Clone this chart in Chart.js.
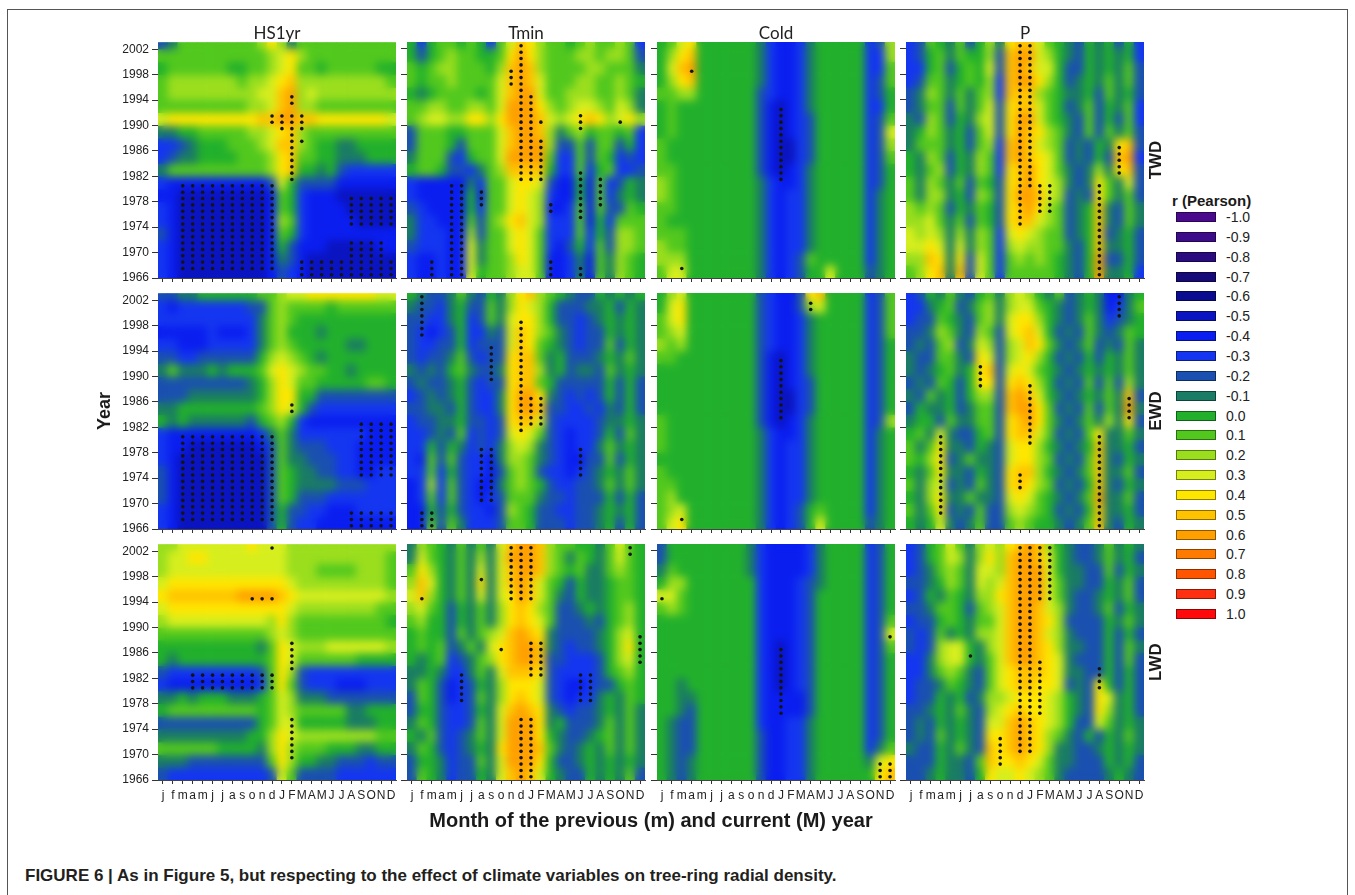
<!DOCTYPE html>
<html>
<head>
<meta charset="utf-8">
<title>Figure 6 - climate correlations with tree-ring density</title>
<script src="https://cdn.jsdelivr.net/npm/chart.js@4.4.1/dist/chart.umd.min.js"></script>
<style>
  html, body { margin: 0; padding: 0; background: #fff; }
  body { position: relative; width: 1355px; height: 895px; overflow: hidden; font-family: "Liberation Sans", Arial, sans-serif; color: #1a1a1a; }
  #frame { position: absolute; left: 7px; top: 9px; width: 1339px; height: 950px; border: 1.5px solid #555; }
  canvas { position: absolute; }
  .txt { position: absolute; white-space: nowrap; line-height: 1; }
  .col-title { font-family: Lato, "Open Sans", sans-serif; font-size: 17px; transform: translate(-50%, -50%); color: #222; }
  .rot { font-weight: bold; transform: translate(-50%, -50%) rotate(-90deg); }
  .swatch { position: absolute; width: 40px; height: 10px; box-sizing: border-box; border: 1px solid rgba(0, 0, 0, 0.45); }
</style>
</head>
<body>
<div id="frame"></div>
<script>
const MONTHS = [ "j", "f", "m", "a", "m", "j", "j", "a", "s", "o", "n", "d",
                 "J", "F", "M", "A", "M", "J", "J", "A", "S", "O", "N", "D" ];
const YEAR_TICKS = [ 1966, 1970, 1974, 1978, 1982, 1986, 1990, 1994, 1998, 2002 ];
// each grid row is a two-year band, listed top (2002) to bottom (1966)
const BAND_STARTS = [ 2002, 2000, 1998, 1996, 1994, 1992, 1990, 1988, 1986, 1984,
                      1982, 1980, 1978, 1976, 1974, 1972, 1970, 1968, 1966 ];
const VARIABLES = [ "HS1yr", "Tmin", "Cold", "P" ];
const DENSITIES = [ "TWD", "EWD", "LWD" ];
const R_LEVELS = [ -1.0, -0.9, -0.8, -0.7, -0.6, -0.5, -0.4, -0.3, -0.2, -0.1, 0.0,
                   0.1, 0.2, 0.3, 0.4, 0.5, 0.6, 0.7, 0.8, 0.9, 1.0 ];
const R_COLORS = [ "#4a0a8e", "#3c0c8a", "#2b0c80", "#160a78", "#0a0c90", "#0a14c0", "#0a1ef0",
                   "#1436f0", "#1a50b0", "#1a7c64", "#22b02c", "#52c81e", "#9ade1e", "#d6ee1e",
                   "#ffe600", "#ffc300", "#ffa000", "#ff7a00", "#ff5500", "#ff3010", "#ff0a0a" ];

// Cell codes: digit n = +0.n, letter a..j = -0.1..-1.0
// first 12 = previous year (j..d), after the space = current year (J..D)
const HS1YR_TWD = [
  "ba1111111124 2a1111111111",
  "111111111112 342111111111",
  "011111100112 341101111100",
  "122222221223 452222222221",
  "122222222233 562322222222",
  "111111111223 562211111111",
  "344444444455 665544444443",
  "aa0011111223 452111111111",
  "ccba00011123 552100aa0000",
  "cbaa00001112 451100aaa000",
  "a11111111112 4500a0bccccc",
  "cddddddddddb 30bbbbdddddd",
  "ddeeeeeeeeed 10cdddeeeeee",
  "cdeeeeeeeeed 10cddddeeeee",
  "cdeeeeeeeeed 21cdddddeeee",
  "bdeeeeeeeeed 10cddddddddd",
  "cdeeeeeeeeed 0bdddeeeeedd",
  "cdeeeeeeeeed abdeeeeeeeee",
  "cdeeeeeeeeed bcdeeeeeeeee"
];
const TMIN_TWD = [
  "0c011010c135 42110121121c",
  "0b0121100146 42111221221b",
  "101221110256 52111122111a",
  "101121111356 531112211210",
  "0a0111101356 63112221121a",
  "112211221366 64212332132a",
  "123322442466 653234542342",
  "b11100111356 652a1201101c",
  "b1110b111356 662bb1b11b0c",
  "a111bc011366 661cc1b10cbc",
  "0110bbca1255 550cc1c01ccb",
  "cdddddac1134 43bdd0d1cb0a",
  "cddddd0d1134 32cdd0d1ca0a",
  "bcdddd0c1134 32ddc1d1bb10",
  "accddd1b1245 32ccc1d0c111",
  "acccdd2b1134 31ccc1c0b221",
  "bcccdd3a1134 31cdb0c1b221",
  "cddcdd3a1124 31ddcad1a210",
  "cddcdd301123 31ddcad1a210"
];
const COLD_TWD = [
  "0134000000ac ddca00000cb2",
  "0245000000ac ddca00000cc2",
  "0356000000ac ddca00000cc1",
  "0245000000ac ddca00000cb1",
  "1122000000bc ddca00000cb0",
  "0100000000bd edca00000cc0",
  "0100000000bd edcb00000cb1",
  "0100000000bd edcb00000cb3",
  "1000000000bd eecb00000cb2",
  "1000000000bd eecb00000cb1",
  "1100000000bd edca00000cb0",
  "2100000000ac ddca00000cb0",
  "2100000000ac dcca00000ca0",
  "1100000000ac dcca00000ca0",
  "1000000000ac dcca00000ca0",
  "1110000000ac dcca00000ca0",
  "2110000000ac dcca00000ca0",
  "2220000000ac dcb100000ca0",
  "1330000000ac dcb003000ba0"
];
const P_TWD = [
  "cb10a1b02a45 5310ab0a0b0c",
  "cb01a1002b56 6320ab0a0a0c",
  "cc01b0103b56 5330bb0a0a1b",
  "cb11a0102c56 6420ba0a1a1b",
  "ba21a1a12c55 5210aa0b1a0b",
  "ba11b1a13b45 5310ba1b0a1c",
  "ab21b0a23b46 6310ab1b0b1c",
  "a021a0b13b46 5421ab1b1a1b",
  "a111a0b12c56 5321bab0a45b",
  "0a21b0a21c56 5431bab0b56c",
  "0a12b0a21c45 6431aba2a45b",
  "1a21a1b10b45 6432aba41a3b",
  "1a22a0b21b46 6532bab41a1b",
  "2121b0a10b45 6421ba05ab1a",
  "2231a1b10b45 5321ba05ab1a",
  "3232a2a21c34 3211ba05ba0b",
  "3343a3a21c23 2211ab05aa0b",
  "2254a4b31c12 1210ab06bb0b",
  "1245a5b31c11 1110ab06aa0c"
];
const HS1YR_EWD = [
  "bbaa00000011 233444444433",
  "cdcccccccbb1 211110111111",
  "cccccccccca1 210000000000",
  "dddddcdddca1 2000a0000000",
  "ccdddccccca1 2100000aa000",
  "bbccbbbbbb02 3210a0000000",
  "a1aaa0a00013 4321100a0000",
  "bbbbbbbbba02 431100000110",
  "bbbaaaaaaa02 4400bbbbbbbb",
  "aa0000000012 430bcccccccc",
  "0a0aaaaaab01 20cddddddddd",
  "cdddddddddca 1acccccccddd",
  "cddeeeeeeedb 1abbbcccdddd",
  "cdeeeeeeeeeb 1aabbbccdddd",
  "bdeeeeeeeeeb 10aabbccddcc",
  "bdeeeeeeeeeb 10aaaabbbccc",
  "bdeeeeeeeeeb 10bbbccccccc",
  "cdeeeeeeeeeb 0bbccdddcccc",
  "cdeeeeeeeeeb 0bccdddddddd"
];
const TMIN_EWD = [
  "0abba1ab0a24 5210abb0a0a0",
  "abbca0bb1a24 320bbbaa0b0a",
  "bbcca0cb1a34 420bbcba0a0a",
  "bcdcb0ccab35 421abcbb0a0a",
  "bccbb0cbbb35 410abcbb1b0a",
  "bcbba1bcbb45 51a0bbba0a1a",
  "abab01abba45 52a0baab1a0a",
  "babba0bcbb45 510bbbbb0b0b",
  "cbaba0bcca46 64abcbcb0b0b",
  "bbaab0bcca46 65bbccbcab0b",
  "cbbaa0bbcb45 53bccccbaa0a",
  "ccbab1cbcb34 31bcdccb0b1a",
  "cc0b0acbca23 2abcdcca1a0a",
  "cd1b1bccda22 1abcddbb1b0a",
  "cc1c0bccdb12 1bccdcba0a1a",
  "dc2c1bcdda12 10bccbba1a1a",
  "dc1c1bcdcb11 1abbcbbb0b0b",
  "dd0b0bccdb21 0bbccbba0a0b",
  "dd1b1acccb11 0bbbcbba0b0b"
];
const COLD_EWD = [
  "0230000000bc ddb450000cb1",
  "0340000000bc ddb230000cb1",
  "1340000000bc ddca00000cb1",
  "1230000000bc ddca00000cb1",
  "2120000000bc ddca00000cb0",
  "1100000000bd edca00000cb0",
  "0000000000bd edca00000cb0",
  "0000000000bd edcb00000cb0",
  "0000000000bd eecb00000cb0",
  "0000000000bd eecb00000cb0",
  "1000000000bd edca00000cb2",
  "1000000000ac ddca00000ca0",
  "1000000000ac dcca00000ca0",
  "0000000000ac dcca00000ca0",
  "1000000000ac dcca00000ca0",
  "1100000000ac dcca00000ca0",
  "1200000000ac dcca00000ca0",
  "1230000000ac dcb010000ca0",
  "1340000000ac dcb030000ba0"
];
const P_EWD = [
  "cb0a1ab01a23 20a1ba0adda0",
  "cca01ba12a23 310aba0adca1",
  "cbb10ab12a34 420aba1acba0",
  "bba21ab21b34 530bab1aba10",
  "bab12ba32b23 541aba1bab1a",
  "abb11ab43b23 420bab0b0a1a",
  "aba01a045b34 310aba0a0a1a",
  "bab10b044b45 420bab1b1b2a",
  "ab1a0b022b56 530aba0a1a5b",
  "b0aa0ba11b56 641bab1b1a6a",
  "a00b1aa11b45 641aba1a2a4b",
  "01a3abb01b45 531bab14aa1a",
  "1a14aab0ab34 420aba05aa0b",
  "1024ba1aab34 421bab15ab0a",
  "0a14aab0ab45 520aba15aa1b",
  "1a23bab1ab45 421bab05ab0a",
  "0a24aa1aab34 310aba16aa1b",
  "1a14bab1bb23 210bab05aa0b",
  "0a03aba1bb12 100aba15ab0a"
];
const HS1YR_LWD = [
  "223333333433 322222222222",
  "233443333333 322222222221",
  "233333333333 322211112221",
  "344444444444 432222222221",
  "455555556666 543333333332",
  "344444444444 432222222211",
  "233333333332 421111111110",
  "111111111112 321111111111",
  "0000000000a1 432223333332",
  "0a0000000001 431111110000",
  "bcccccccccb1 42bccccccccc",
  "cdddddddddc1 41bcccdddccc",
  "aa0a000aaa01 32aaabbbbbbb",
  "011111111101 3211111aa000",
  "bbbbbbbbbb01 3300000aaa00",
  "aaaaaaaaa002 432222222211",
  "1111110000a2 42111000aa00",
  "aaabbbbbbbb1 4200aabbbcbb",
  "bccccccccccb 31bbbbcccccc"
];
const TMIN_LWD = [
  "a210a1a1a356 6521100a1310",
  "a310a1a2a366 6521a10a1310",
  "1420a1a3a356 652101aa1210",
  "2530a1a4a356 5310b0aa0110",
  "3520a1a3a346 531ab0aa0110",
  "2310b0a1a245 421bba0a0120",
  "1200b0a1a245 431bbbab0120",
  "0100b1a12356 54abbbba0230",
  "0101ba1a3456 65abcbba0240",
  "0a01cba12456 65bbcccb0230",
  "aa0acca1a355 54bccccb0120",
  "a10bdcb0a244 43bcddcbb010",
  "b10bdcb1a245 43bcdcca0a10",
  "b00bccb0a356 54abcbba0a1a",
  "a10bccb1a366 64a0bbba1a1a",
  "0a1bcba1a366 640abba01a1a",
  "a10bcba0a466 651aba0a1a1a",
  "b00acbb1a366 640bba0a0a0a",
  "b10acbb0a356 530abb0a0a1b"
];
const COLD_LWD = [
  "b00000000acd dddca0000cb0",
  "b00000000acd dddca0000cb0",
  "a10000000acd dddca0000cb0",
  "0220000000cd ddcba0000cb0",
  "3310000000cd ddcb00000cb0",
  "1210000000cd ddcb00000cb0",
  "0000000000cd ddcb00000cb1",
  "0000000000cd ddcb00000cb3",
  "0000000000cd edcb00000cb1",
  "0000000000cd edcb00000cb0",
  "0000000000cd edcb00000cb0",
  "00a0000000cd edcb00000cb0",
  "00aa000000cd dddb00000cb0",
  "00ab000000cd dddb00000cb0",
  "0abb000000cd dcca00000cb0",
  "0abb000000bd dcca00000cb0",
  "0abb000000bd dcca00000ca1",
  "0aba000000bd dcca00000a34",
  "0aba000000bd dcca00000045"
];
const P_LWD = [
  "cb0131a23245 6520abba1a0a",
  "cb0132a24256 6530abba1a0b",
  "cba121a33256 6630aabb1b0a",
  "bba021a32356 6631aabb0a1b",
  "cb0a10a22456 6631abba0a1b",
  "bba110b12356 6532abba1b0a",
  "cbb010a11356 6542bbbb0a1a",
  "bcb1a0a22356 6532abbb0b0b",
  "bcb2330a2356 6542aabb0b1a",
  "cca2330a1356 6543abbb0b1b",
  "cca121ab1345 5543aabb0b0b",
  "cbba10ab1345 5443bab40b0b",
  "cbb0a0ba2234 44320ab43a0b",
  "bba0a1ab2345 44320ab42a0b",
  "bab0a0ab3356 54320bb31a0a",
  "bab1a0ab4456 5421ab0b0a1a",
  "abb0a1ab5456 542aabba0a0a",
  "bbb0aab15445 431aabbb0a0b",
  "bba0aab04334 321abbbba0ab"
];

// significant correlations (the black dots): [first year, last year, first month, last month]
const HS1YR_TWD_SIG = [ [1967, 1980, 2, 11], [1966, 1968, 14, 23], [1969, 1971, 19, 22], [1974, 1978, 19, 23],
                        [1981, 1988, 13, 13], [1987, 1987, 14, 14], [1989, 1991, 12, 14], [1990, 1991, 11, 11], [1993, 1994, 13, 13] ];
const TMIN_TWD_SIG = [ [1981, 2002, 11, 11], [1996, 1998, 10, 10], [1981, 1994, 12, 12], [1981, 1987, 13, 13], [1990, 1990, 13, 13],
                       [1989, 1991, 17, 17], [1990, 1990, 21, 21], [1966, 1980, 4, 5], [1966, 1968, 2, 2], [1977, 1979, 7, 7],
                       [1966, 1968, 14, 14], [1976, 1977, 14, 14], [1975, 1982, 17, 17], [1966, 1967, 17, 17], [1977, 1981, 19, 19] ];
const COLD_TWD_SIG = [ [1981, 1992, 12, 12], [1998, 1998, 3, 3], [1967, 1967, 2, 2] ];
const P_TWD_SIG = [ [1974, 2002, 11, 11], [1980, 2002, 12, 12], [1976, 1980, 13, 14], [1982, 1986, 21, 21], [1966, 1980, 19, 19] ];
const HS1YR_EWD_SIG = [ [1967, 1980, 2, 11], [1984, 1985, 13, 13], [1974, 1982, 20, 23], [1966, 1968, 19, 23] ];
const TMIN_EWD_SIG = [ [1981, 1998, 11, 11], [1982, 1986, 12, 13], [1989, 1994, 8, 8], [1996, 2002, 1, 1],
                       [1970, 1978, 7, 8], [1966, 1968, 1, 2], [1974, 1978, 17, 17] ];
const COLD_EWD_SIG = [ [1983, 1992, 12, 12], [2000, 2001, 15, 15], [1967, 1967, 2, 2] ];
const P_EWD_SIG = [ [1968, 1980, 3, 3], [1988, 1991, 7, 7], [1972, 1974, 11, 11], [1979, 1988, 12, 12],
                    [1966, 1980, 19, 19], [1983, 1986, 22, 22], [1999, 2002, 21, 21] ];
const HS1YR_LWD_SIG = [ [1994, 1994, 9, 11], [2002, 2002, 11, 11], [1983, 1987, 13, 13], [1969, 1975, 13, 13], [1980, 1982, 3, 11] ];
const TMIN_LWD_SIG = [ [1994, 2002, 10, 12], [1966, 1975, 11, 12], [1982, 1987, 12, 13], [1978, 1982, 5, 5], [1978, 1982, 17, 18],
                       [1994, 1994, 1, 1], [1997, 1997, 7, 7], [1986, 1986, 9, 9], [2001, 2002, 22, 22], [1984, 1988, 23, 23] ];
const COLD_LWD_SIG = [ [1976, 1986, 12, 12], [1994, 1994, 0, 0], [1988, 1988, 23, 23], [1966, 1968, 22, 23] ];
const P_LWD_SIG = [ [1994, 2002, 11, 14], [1970, 1993, 11, 12], [1976, 1984, 13, 13], [1985, 1985, 6, 6],
                    [1968, 1972, 9, 9], [1980, 1983, 19, 19] ];

const PANELS = [
  [ HS1YR_TWD, HS1YR_TWD_SIG ], [ TMIN_TWD, TMIN_TWD_SIG ], [ COLD_TWD, COLD_TWD_SIG ], [ P_TWD, P_TWD_SIG ],
  [ HS1YR_EWD, HS1YR_EWD_SIG ], [ TMIN_EWD, TMIN_EWD_SIG ], [ COLD_EWD, COLD_EWD_SIG ], [ P_EWD, P_EWD_SIG ],
  [ HS1YR_LWD, HS1YR_LWD_SIG ], [ TMIN_LWD, TMIN_LWD_SIG ], [ COLD_LWD, COLD_LWD_SIG ], [ P_LWD, P_LWD_SIG ]
];

// page layout
const PANEL_LEFT = [ 158, 407, 657, 906 ];
const PANEL_TOP = [ 42, 293, 544 ];
const PANEL_W = 238, PANEL_H = 236;
const PAD_L = 60, PAD_T = 10, PAD_R = 6, PAD_B = 30;

function cellValue( ch ) {
  if ( ch >= "0" && ch <= "9" ) return ( ch.charCodeAt( 0 ) - 48 ) / 10;
  return -( ch.charCodeAt( 0 ) - 96 ) / 10;
}

function cellColor( ch ) {
  return R_COLORS[ Math.round( cellValue( ch ) * 10 ) + 10 ];
}

// Second, blurred pass over the cells so they blend like the gridded surface in the figure.
const smoothCells = {
  id: "smoothCells",
  beforeDatasetDraw( chart, args ) {
    if ( args.meta.type !== "scatter" ) return;
    let ctx = chart.ctx, a = chart.chartArea;
    let w = Math.round( a.right - a.left ), h = Math.round( a.bottom - a.top );
    let copy = document.createElement( "canvas" );
    copy.width = w;
    copy.height = h;
    copy.getContext( "2d" ).drawImage( chart.canvas, a.left, a.top, w, h, 0, 0, w, h );
    ctx.save();
    ctx.beginPath();
    ctx.rect( a.left, a.top, w, h );
    ctx.clip();
    ctx.filter = "blur(4px)";
    ctx.drawImage( copy, a.left, a.top );
    ctx.restore();
  }
};

Chart.defaults.font.family = '"Liberation Sans", Arial, sans-serif';
Chart.defaults.color = "#222";

function addText( text, cls, x, y, style ) {
  let el = document.createElement( "div" );
  el.className = "txt " + cls;
  el.textContent = text;
  el.style.left = x + "px";
  el.style.top = y + "px";
  Object.assign( el.style, style || {} );
  document.body.appendChild( el );
  return el;
}

PANELS.forEach( ( panel, n ) => {
  let row = Math.floor( n / 4 ), col = n % 4;
  let grid = panel[ 0 ], sig = panel[ 1 ];

  let canvas = document.createElement( "canvas" );
  canvas.width = PANEL_W + PAD_L + PAD_R;
  canvas.height = PANEL_H + PAD_T + PAD_B;
  canvas.style.left = ( PANEL_LEFT[ col ] - PAD_L ) + "px";
  canvas.style.top = ( PANEL_TOP[ row ] - PAD_T ) + "px";
  document.body.appendChild( canvas );

  let datasets = grid.map( ( line, r ) => {
    let cells = line.replace( " ", "" ).split( "" );
    return {
      type: "bar",
      data: cells.map( ( ch, m ) => ( { x: m, y: [ BAND_STARTS[ r ], BAND_STARTS[ r ] + 2 ] } ) ),
      backgroundColor: cells.map( cellColor ),
      grouped: false,
      barPercentage: 1,
      categoryPercentage: 1,
      borderWidth: 0,
      order: 1
    };
  } );

  let dots = [];
  sig.forEach( ( s ) => {
    for ( let y = s[ 0 ]; y <= s[ 1 ]; y++ ) {
      for ( let m = s[ 2 ]; m <= s[ 3 ]; m++ ) dots.push( { x: m, y: y + 0.5 } );
    }
  } );
  datasets.push( {
    type: "scatter",
    data: dots,
    pointRadius: 1.8,
    pointBackgroundColor: "#141414",
    pointBorderWidth: 0,
    order: 0
  } );

  new Chart( canvas, {
    type: "bar",
    data: { datasets: datasets },
    plugins: [ smoothCells ],
    options: {
      responsive: false,
      animation: false,
      devicePixelRatio: 1,
      events: [],
      layout: { padding: { left: 0, top: PAD_T, right: PAD_R, bottom: 0 } },
      plugins: { legend: { display: false }, tooltip: { enabled: false } },
      scales: {
        x: {
          type: "linear", min: -0.5, max: 23.5, offset: false,
          afterBuildTicks: ( s ) => { s.ticks = MONTHS.map( ( label, i ) => ( { value: i } ) ); },
          afterFit: ( s ) => { s.height = PAD_B; },
          ticks: { display: row === 2, autoSkip: false, maxRotation: 0, padding: 4,
                   font: { size: 12 }, color: "#222", callback: ( v ) => MONTHS[ v ] },
          grid: { drawOnChartArea: false, drawTicks: true, tickLength: 4, color: "#333", offset: false },
          border: { display: true, color: "#444", z: 1 }
        },
        y: {
          type: "linear", min: 1966, max: 2003.1,
          afterBuildTicks: ( s ) => { s.ticks = YEAR_TICKS.map( ( v ) => ( { value: v } ) ); },
          afterFit: ( s ) => { s.width = PAD_L; },
          ticks: { display: col === 0, padding: 3, font: { size: 12 }, color: "#222",
                   callback: ( v ) => String( v ) },
          grid: { drawOnChartArea: false, drawTicks: true, tickLength: 6, color: "#333" },
          border: { display: false }
        }
      }
    }
  } );
} );

// titles and labels
VARIABLES.forEach( ( name, c ) => addText( name, "col-title", PANEL_LEFT[ c ] + PANEL_W / 2, 32 ) );
DENSITIES.forEach( ( name, r ) => addText( name, "rot", 1155, PANEL_TOP[ r ] + PANEL_H / 2, { fontSize: "17px" } ) );
addText( "Year", "rot", 104, 411, { fontSize: "18px" } );
addText( "Month of the previous (m) and current (M) year", "", 651, 820,
         { fontSize: "20px", fontWeight: "bold", transform: "translate(-50%, -50%)" } );
addText( "FIGURE 6 | As in Figure 5, but respecting to the effect of climate variables on tree-ring radial density.", "",
         25, 867, { fontSize: "17px", fontWeight: "bold", color: "#231f20" } );

// colour key
addText( "r (Pearson)", "", 1172, 193, { fontSize: "15px", fontWeight: "bold" } );
R_LEVELS.forEach( ( level, i ) => {
  let cy = 217 + i * 19.85;
  let sw = document.createElement( "div" );
  sw.className = "swatch";
  sw.style.left = "1176px";
  sw.style.top = ( cy - 5 ) + "px";
  sw.style.background = R_COLORS[ i ];
  document.body.appendChild( sw );
  addText( level.toFixed( 1 ), "", 1226, cy - 7, { fontSize: "14px", color: "#222" } );
} );
</script>
</body>
</html>
